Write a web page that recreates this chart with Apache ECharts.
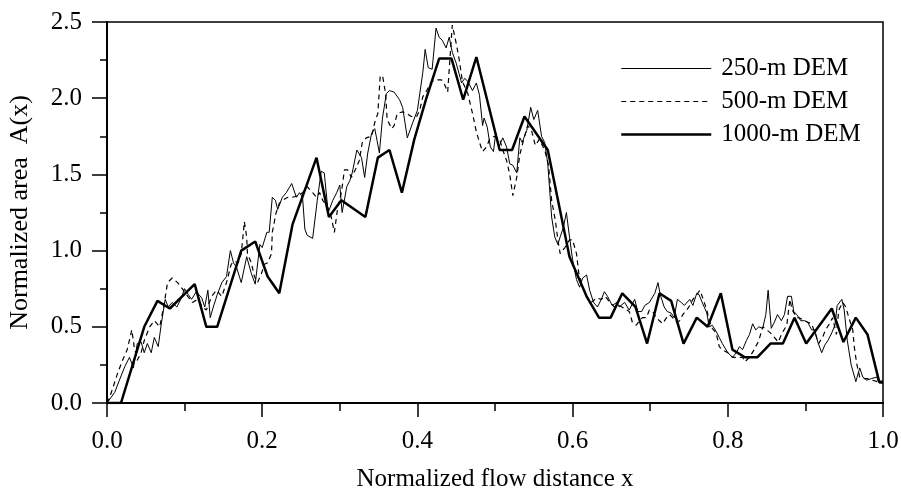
<!DOCTYPE html>
<html>
<head>
<meta charset="utf-8">
<script src="https://cdn.jsdelivr.net/npm/echarts@6/dist/echarts.min.js"></script>
<style>
  html, body { margin: 0; padding: 0; background: #fff; }
  #main { width: 901px; height: 491px; }
</style>
</head>
<body>
<div id="main"></div>
<script>
// 归一化流程距离 x 与归一化面积 A(x)，三种分辨率 DEM
var xTicks = [0, 0.2, 0.4, 0.6, 0.8, 1.0];
var yTicks = [0, 0.5, 1.0, 1.5, 2.0, 2.5];
var seriesNames = ["250-m DEM", "500-m DEM", "1000-m DEM"];

var dem250 = [
  [0, 0], [0.010, 0.07], [0.016, 0.15], [0.023, 0.24], [0.029, 0.30], [0.034, 0.23],
  [0.039, 0.39], [0.044, 0.40], [0.048, 0.33], [0.052, 0.39], [0.057, 0.33], [0.061, 0.43],
  [0.066, 0.37], [0.070, 0.52], [0.075, 0.68], [0.079, 0.63], [0.084, 0.66], [0.090, 0.63],
  [0.095, 0.68], [0.100, 0.75], [0.105, 0.71], [0.109, 0.68], [0.115, 0.73], [0.122, 0.69],
  [0.126, 0.63], [0.130, 0.74], [0.133, 0.56], [0.137, 0.63], [0.142, 0.71], [0.148, 0.79],
  [0.154, 0.83], [0.159, 1.00], [0.163, 0.92], [0.167, 0.89], [0.173, 0.79], [0.180, 0.96],
  [0.186, 0.85], [0.191, 0.78], [0.197, 1.04], [0.200, 1.02], [0.206, 1.12], [0.209, 1.12],
  [0.213, 1.35], [0.217, 1.33], [0.220, 1.27], [0.226, 1.35], [0.231, 1.38], [0.238, 1.44],
  [0.244, 1.35], [0.248, 1.38], [0.252, 1.35], [0.255, 1.14], [0.258, 1.10], [0.265, 1.08],
  [0.271, 1.33], [0.276, 1.52], [0.280, 1.51], [0.285, 1.25], [0.291, 1.33], [0.296, 1.38],
  [0.300, 1.43], [0.303, 1.25], [0.309, 1.42], [0.313, 1.46], [0.316, 1.51], [0.322, 1.66],
  [0.328, 1.61], [0.332, 1.48], [0.336, 1.64], [0.341, 1.77], [0.345, 1.80], [0.347, 1.75],
  [0.351, 1.64], [0.355, 1.87], [0.360, 2.03], [0.364, 2.05], [0.370, 2.04], [0.377, 1.99],
  [0.381, 1.94], [0.387, 1.74], [0.394, 1.84], [0.400, 1.92], [0.407, 2.17], [0.410, 2.32],
  [0.414, 2.20], [0.419, 2.19], [0.424, 2.46], [0.428, 2.40], [0.432, 2.38], [0.437, 2.33],
  [0.441, 2.40], [0.445, 2.30], [0.450, 2.23], [0.457, 2.10], [0.461, 2.13], [0.465, 2.11],
  [0.471, 2.05], [0.476, 2.10], [0.480, 2.02], [0.484, 1.82], [0.486, 1.87], [0.490, 1.81],
  [0.494, 1.68], [0.498, 1.65], [0.501, 1.77], [0.505, 1.68], [0.510, 1.74], [0.515, 1.68],
  [0.519, 1.57], [0.523, 1.56], [0.528, 1.51], [0.532, 1.74], [0.535, 1.71], [0.541, 1.79],
  [0.546, 1.94], [0.550, 1.86], [0.555, 1.92], [0.560, 1.75], [0.564, 1.71], [0.568, 1.57],
  [0.573, 1.22], [0.577, 1.09], [0.581, 1.04], [0.584, 1.09], [0.588, 1.15], [0.592, 1.25],
  [0.596, 1.09], [0.600, 0.94], [0.605, 0.81], [0.609, 0.76], [0.613, 0.82], [0.618, 0.84],
  [0.622, 0.74], [0.627, 0.66], [0.632, 0.63], [0.637, 0.68], [0.641, 0.73], [0.645, 0.70],
  [0.651, 0.64], [0.657, 0.66], [0.660, 0.63], [0.667, 0.66], [0.673, 0.61], [0.680, 0.68],
  [0.684, 0.60], [0.689, 0.60], [0.693, 0.64], [0.699, 0.66], [0.706, 0.72], [0.710, 0.79],
  [0.713, 0.71], [0.718, 0.63], [0.722, 0.60], [0.727, 0.59], [0.731, 0.56], [0.735, 0.68],
  [0.740, 0.66], [0.744, 0.64], [0.751, 0.68], [0.755, 0.64], [0.760, 0.72], [0.763, 0.71],
  [0.767, 0.66], [0.773, 0.59], [0.776, 0.50], [0.780, 0.51], [0.785, 0.47], [0.789, 0.43],
  [0.793, 0.39], [0.800, 0.33], [0.806, 0.30], [0.811, 0.33], [0.815, 0.37], [0.819, 0.35],
  [0.824, 0.41], [0.828, 0.45], [0.832, 0.52], [0.836, 0.48], [0.840, 0.50], [0.845, 0.49],
  [0.849, 0.58], [0.852, 0.74], [0.856, 0.49], [0.860, 0.53], [0.864, 0.58], [0.869, 0.54],
  [0.873, 0.58], [0.877, 0.70], [0.882, 0.70], [0.885, 0.60], [0.889, 0.58], [0.894, 0.54],
  [0.899, 0.54], [0.903, 0.53], [0.908, 0.48], [0.912, 0.48], [0.916, 0.40], [0.921, 0.33],
  [0.925, 0.38], [0.929, 0.41], [0.934, 0.46], [0.938, 0.51], [0.941, 0.64], [0.947, 0.68],
  [0.950, 0.61], [0.954, 0.41], [0.959, 0.25], [0.965, 0.14], [0.970, 0.23], [0.974, 0.17],
  [0.979, 0.15], [0.985, 0.16], [0.992, 0.17], [0.995, 0.13], [1.0, 0.13]
];

var dem500 = [
  [0, 0], [0.003, 0.03], [0.014, 0.20], [0.020, 0.28], [0.026, 0.35], [0.032, 0.48],
  [0.035, 0.37], [0.039, 0.28], [0.044, 0.33], [0.048, 0.41], [0.055, 0.50], [0.061, 0.54],
  [0.068, 0.50], [0.074, 0.66], [0.078, 0.79], [0.084, 0.82], [0.091, 0.79], [0.097, 0.75],
  [0.104, 0.70], [0.110, 0.66], [0.117, 0.68], [0.123, 0.63], [0.128, 0.61], [0.135, 0.70],
  [0.141, 0.74], [0.148, 0.70], [0.154, 0.79], [0.160, 0.91], [0.164, 0.93], [0.169, 0.92],
  [0.173, 0.98], [0.175, 1.08], [0.177, 1.19], [0.180, 1.09], [0.181, 0.98], [0.186, 0.92],
  [0.190, 0.83], [0.194, 0.79], [0.199, 0.85], [0.203, 0.91], [0.207, 0.92], [0.212, 0.98],
  [0.213, 1.12], [0.218, 1.25], [0.222, 1.31], [0.226, 1.33], [0.233, 1.35], [0.239, 1.35],
  [0.246, 1.36], [0.252, 1.38], [0.258, 1.42], [0.265, 1.38], [0.270, 1.35], [0.274, 1.38],
  [0.278, 1.33], [0.284, 1.29], [0.289, 1.22], [0.293, 1.12], [0.297, 1.27], [0.302, 1.38],
  [0.306, 1.53], [0.310, 1.53], [0.315, 1.48], [0.320, 1.53], [0.325, 1.59], [0.329, 1.71],
  [0.334, 1.74], [0.341, 1.75], [0.345, 1.84], [0.349, 1.90], [0.352, 2.14], [0.355, 2.15],
  [0.359, 2.03], [0.361, 1.86], [0.367, 1.80], [0.370, 1.82], [0.374, 1.90], [0.381, 1.91],
  [0.386, 1.90], [0.392, 1.88], [0.399, 1.88], [0.403, 1.92], [0.407, 2.01], [0.412, 2.05],
  [0.418, 2.11], [0.425, 2.12], [0.431, 2.12], [0.435, 2.09], [0.439, 2.04], [0.444, 2.41],
  [0.445, 2.48], [0.450, 2.36], [0.454, 2.25], [0.458, 2.11], [0.465, 2.03], [0.471, 1.90],
  [0.476, 1.78], [0.480, 1.71], [0.484, 1.65], [0.489, 1.68], [0.493, 1.73], [0.499, 1.75],
  [0.506, 1.73], [0.510, 1.66], [0.515, 1.59], [0.519, 1.50], [0.523, 1.36], [0.528, 1.48],
  [0.532, 1.63], [0.537, 1.73], [0.542, 1.82], [0.547, 1.79], [0.552, 1.69], [0.557, 1.73],
  [0.564, 1.66], [0.569, 1.56], [0.573, 1.33], [0.578, 1.19], [0.581, 1.07], [0.584, 0.98],
  [0.590, 1.02], [0.596, 1.07], [0.600, 1.07], [0.605, 0.98], [0.608, 0.85], [0.613, 0.76],
  [0.618, 0.70], [0.624, 0.66], [0.631, 0.69], [0.637, 0.68], [0.642, 0.70], [0.648, 0.66],
  [0.654, 0.63], [0.660, 0.64], [0.667, 0.62], [0.673, 0.60], [0.677, 0.53], [0.682, 0.51],
  [0.686, 0.54], [0.690, 0.56], [0.695, 0.56], [0.699, 0.61], [0.703, 0.60], [0.708, 0.56],
  [0.712, 0.54], [0.716, 0.52], [0.721, 0.56], [0.725, 0.58], [0.729, 0.56], [0.734, 0.53],
  [0.738, 0.54], [0.742, 0.58], [0.747, 0.61], [0.751, 0.64], [0.755, 0.68], [0.760, 0.71],
  [0.764, 0.74], [0.767, 0.70], [0.773, 0.61], [0.776, 0.54], [0.780, 0.49], [0.785, 0.46],
  [0.789, 0.37], [0.793, 0.35], [0.800, 0.33], [0.806, 0.30], [0.812, 0.30], [0.819, 0.30],
  [0.822, 0.27], [0.828, 0.30], [0.834, 0.35], [0.840, 0.41], [0.845, 0.50], [0.850, 0.48],
  [0.855, 0.46], [0.860, 0.43], [0.865, 0.40], [0.870, 0.46], [0.876, 0.51], [0.880, 0.68],
  [0.883, 0.61], [0.889, 0.56], [0.892, 0.56], [0.899, 0.54], [0.903, 0.53], [0.908, 0.52],
  [0.913, 0.45], [0.917, 0.39], [0.922, 0.43], [0.926, 0.48], [0.931, 0.52], [0.935, 0.56],
  [0.940, 0.45], [0.943, 0.61], [0.948, 0.66], [0.952, 0.63], [0.956, 0.56], [0.961, 0.48],
  [0.963, 0.37], [0.966, 0.26], [0.970, 0.17], [0.975, 0.16], [0.980, 0.16], [0.986, 0.15],
  [0.993, 0.14], [1.0, 0.13]
];

var dem1000 = [
  [0, 0], [0.018, 0], [0.048, 0.50], [0.065, 0.67], [0.081, 0.62], [0.113, 0.78],
  [0.128, 0.50], [0.142, 0.50], [0.173, 1.00], [0.191, 1.06], [0.207, 0.83], [0.222, 0.72],
  [0.239, 1.17], [0.270, 1.61], [0.286, 1.22], [0.302, 1.33], [0.333, 1.22], [0.349, 1.61],
  [0.364, 1.66], [0.380, 1.38], [0.396, 1.73], [0.411, 1.99], [0.428, 2.26], [0.444, 2.26],
  [0.459, 1.99], [0.476, 2.27], [0.506, 1.66], [0.522, 1.66], [0.538, 1.88], [0.568, 1.66],
  [0.596, 0.96], [0.618, 0.70], [0.634, 0.56], [0.649, 0.56], [0.664, 0.72], [0.681, 0.63],
  [0.696, 0.39], [0.712, 0.72], [0.727, 0.67], [0.743, 0.39], [0.760, 0.56], [0.774, 0.50],
  [0.791, 0.72], [0.806, 0.35], [0.822, 0.30], [0.838, 0.30], [0.855, 0.39], [0.871, 0.39],
  [0.886, 0.56], [0.901, 0.39], [0.934, 0.62], [0.949, 0.40], [0.965, 0.56], [0.980, 0.45],
  [0.995, 0.14], [1.0, 0.14]
];

var serifFont = "Liberation Serif";

// 三条线的样式：细实线、虚线、粗实线
var lineStyles = [
  { color: "#000", width: 1 },
  { color: "#000", width: 1.2, type: [5, 4] },
  { color: "#000", width: 2.5 },
];

var myChart = echarts.init(document.getElementById("main"));
myChart.setOption({
  animation: false,
  backgroundColor: "#fff",
  textStyle: { fontFamily: serifFont, color: "#000" },
  grid: {
    left: 107,
    right: 18,
    top: 22,
    bottom: 88,
    outerBoundsMode: "none", // 固定绘图区，不随标签自动收缩
    show: true,
    borderColor: "#000",
    borderWidth: 1.5,
  },
  legend: {
    orient: "vertical",
    left: 620,
    top: 56,
    padding: 0,
    itemWidth: 90,
    itemHeight: 14,
    itemGap: 8,
    data: seriesNames.map(function (n, i) {
      return { name: n, lineStyle: lineStyles[i] };
    }),
    itemStyle: { opacity: 0 }, // 图例中不画圆点，只画线
    textStyle: {
      fontFamily: serifFont,
      fontSize: 25,
      color: "#000",
      padding: [0, 0, 0, 5],
    },
  },
  xAxis: {
    type: "value",
    min: xTicks[0],
    max: xTicks[xTicks.length - 1],
    interval: 0.2,
    name: "Normalized flow distance x",
    nameLocation: "middle",
    nameGap: 64,
    nameTextStyle: { fontFamily: serifFont, fontSize: 25, color: "#000" },
    axisLine: { lineStyle: { color: "#000", width: 2 } },
    axisTick: { show: true, inside: false, length: 14, lineStyle: { color: "#000", width: 1.5 } },
    minorTick: { show: true, splitNumber: 2, length: 8, lineStyle: { color: "#000", width: 1.5 } },
    axisLabel: {
      margin: 26,
      fontFamily: serifFont,
      fontSize: 25,
      color: "#000",
      formatter: function (v) { return v.toFixed(1); },
    },
    splitLine: { show: false },
  },
  yAxis: {
    type: "value",
    min: yTicks[0],
    max: yTicks[yTicks.length - 1],
    interval: 0.5,
    name: "Normalized area  A(x)",
    nameLocation: "middle",
    nameRotate: 90,
    nameGap: 74,
    nameTextStyle: { fontFamily: serifFont, fontSize: 26, color: "#000" },
    axisLine: { show: true, lineStyle: { color: "#000", width: 2 } },
    axisTick: { show: true, inside: false, length: 15, lineStyle: { color: "#000", width: 1.5 } },
    minorTick: { show: true, splitNumber: 2, length: 7, lineStyle: { color: "#000", width: 1.5 } },
    axisLabel: {
      margin: 25,
      fontFamily: serifFont,
      fontSize: 25,
      color: "#000",
      formatter: function (v) { return v.toFixed(1); },
    },
    splitLine: { show: false },
  },
  series: [
    {
      name: seriesNames[0],
      type: "line",
      data: dem250,
      symbol: "none",
      lineStyle: lineStyles[0],
      itemStyle: { color: "#000" },
    },
    {
      name: seriesNames[1],
      type: "line",
      data: dem500,
      symbol: "none",
      lineStyle: lineStyles[1],
      itemStyle: { color: "#000" },
    },
    {
      name: seriesNames[2],
      type: "line",
      data: dem1000,
      symbol: "none",
      lineStyle: lineStyles[2],
      itemStyle: { color: "#000" },
    },
  ],
});
</script>
</body>
</html>
